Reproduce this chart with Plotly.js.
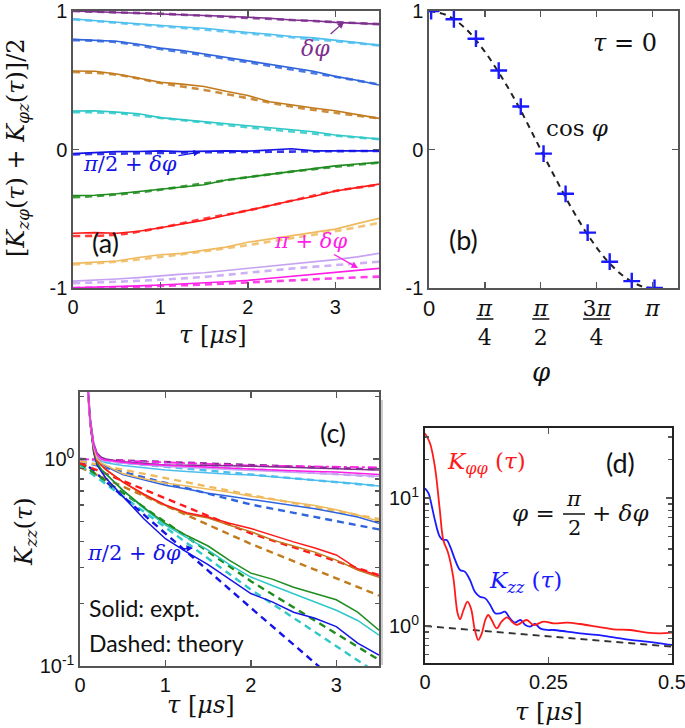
<!DOCTYPE html>
<html><head><meta charset="utf-8">
<script src="https://cdn.plot.ly/plotly-3.0.1.min.js"></script>
<style>body{margin:0;background:#fff}#c{width:685px;height:728px}</style>
</head><body><div id="c"></div>
<script>
// ---------- data ----------
const seriesNames = ['purple','skyblue','blue','brown','turquoise','blue2','green','red','lightorange','lavender','magenta'];
const seriesColors = ['#7E2F8E','#4DBEEE','#2F64DC','#C27A1C','#2EC8C8','#1414E6','#1E8C1E','#FF1A1A','#EFBA5E','#C6A2F2','#FF1EE6'];

// panel (a)
const aTau = [0,0.25,0.5,0.75,1,1.25,1.5,1.75,2,2.25,2.5,2.75,3,3.25,3.5];
const aExp = [
 [1.0,0.995,0.99,0.985,0.982,0.975,0.972,0.962,0.955,0.948,0.935,0.93,0.918,0.912,0.905],
 [0.942,0.93,0.918,0.905,0.894,0.885,0.875,0.858,0.845,0.832,0.816,0.806,0.79,0.772,0.752],
 [0.795,0.79,0.782,0.76,0.732,0.715,0.69,0.668,0.64,0.615,0.592,0.565,0.528,0.5,0.466],
 [0.567,0.565,0.545,0.515,0.485,0.472,0.455,0.42,0.39,0.345,0.32,0.3,0.28,0.25,0.225],
 [0.278,0.28,0.27,0.258,0.23,0.215,0.2,0.19,0.175,0.16,0.145,0.128,0.105,0.09,0.076],
 [-0.03,-0.02,-0.015,-0.014,-0.01,-0.015,-0.012,-0.01,-0.012,-0.005,0.005,-0.01,-0.01,-0.013,-0.01],
 [-0.333,-0.33,-0.32,-0.305,-0.29,-0.27,-0.255,-0.22,-0.2,-0.18,-0.16,-0.142,-0.118,-0.105,-0.093],
 [-0.605,-0.6,-0.605,-0.59,-0.565,-0.54,-0.51,-0.475,-0.44,-0.4,-0.37,-0.34,-0.3,-0.275,-0.25],
 [-0.822,-0.815,-0.805,-0.78,-0.76,-0.75,-0.73,-0.705,-0.67,-0.645,-0.62,-0.6,-0.575,-0.535,-0.497],
 [-0.95,-0.945,-0.935,-0.925,-0.91,-0.9,-0.89,-0.875,-0.86,-0.84,-0.825,-0.81,-0.795,-0.775,-0.75],
 [-0.998,-0.995,-0.99,-0.985,-0.978,-0.972,-0.962,-0.955,-0.945,-0.93,-0.918,-0.905,-0.89,-0.87,-0.858]
];
const aThTau = [0,0.5,1,1.5,2,2.5,3,3.5];
const aTh = [
 [1.0,0.99,0.98,0.966,0.95,0.935,0.92,0.905],
 [0.94,0.915,0.89,0.865,0.838,0.81,0.782,0.752],
 [0.79,0.775,0.725,0.68,0.63,0.578,0.525,0.47],
 [0.56,0.54,0.48,0.43,0.37,0.31,0.265,0.225],
 [0.27,0.262,0.228,0.195,0.16,0.13,0.1,0.075],
 [-0.035,-0.03,-0.025,-0.02,-0.018,-0.015,-0.012,-0.01],
 [-0.345,-0.325,-0.29,-0.245,-0.2,-0.16,-0.125,-0.095],
 [-0.625,-0.615,-0.565,-0.5,-0.44,-0.37,-0.3,-0.255],
 [-0.83,-0.81,-0.775,-0.735,-0.69,-0.64,-0.59,-0.53],
 [-0.965,-0.955,-0.94,-0.92,-0.89,-0.86,-0.835,-0.81],
 [-1.0,-0.995,-0.985,-0.975,-0.96,-0.945,-0.93,-0.918]
];

// panel (b)
const bPhi = [0.03,0.35,0.66,0.98,1.29,1.61,1.92,2.23,2.54,2.85,3.17];
const bVal = [1.0,0.94,0.80,0.57,0.31,-0.03,-0.32,-0.60,-0.81,-0.95,-1.0];
const bCurvePhi = [0,0.25,0.5,0.75,1.0,1.25,1.5,1.75,2.0,2.25,2.5,2.75,3.0,3.14];
const bCurveVal = [1,0.97,0.88,0.73,0.54,0.32,0.07,-0.18,-0.42,-0.63,-0.80,-0.92,-0.99,-1.0];
const bTickVals = [0,0.785,1.571,2.356,3.142];
const bTickText = ['<span style="font-family:Liberation Sans">0</span>','<i>π</i><br>4','<i>π</i><br>2','3<i>π</i><br>4','<i>π</i>'];

// panel (c)
const cTau = [0.08,0.12,0.16,0.2,0.25,0.3,0.5,0.75,1,1.25,1.5,1.75,2,2.25,2.5,2.75,3,3.25,3.5];
const cExp = [
 [2.8,1.58,1.2,1.07,1.02,1.0,0.97,0.955,0.935,0.933,0.927,0.927,0.923,0.916,0.912,0.908,0.902,0.891,0.885],
 [2.6,1.55,1.18,1.03,0.98,0.96,0.93,0.905,0.885,0.87,0.855,0.845,0.838,0.822,0.81,0.795,0.776,0.76,0.74],
 [2.63,1.55,1.15,1.0,0.955,0.923,0.841,0.794,0.748,0.716,0.684,0.661,0.638,0.617,0.596,0.575,0.55,0.525,0.49],
 [2.4,1.45,1.12,0.977,0.933,0.891,0.776,0.668,0.596,0.543,0.519,0.479,0.446,0.407,0.38,0.355,0.325,0.291,0.268],
 [2.51,1.48,1.1,0.955,0.891,0.851,0.708,0.575,0.479,0.417,0.363,0.309,0.269,0.245,0.224,0.204,0.186,0.166,0.141],
 [2.51,1.48,1.07,0.933,0.871,0.813,0.661,0.513,0.412,0.355,0.309,0.263,0.224,0.204,0.182,0.17,0.155,0.129,0.113],
 [2.51,1.48,1.1,0.955,0.891,0.851,0.708,0.582,0.489,0.427,0.38,0.324,0.281,0.263,0.24,0.224,0.209,0.182,0.149],
 [2.51,1.48,1.12,0.977,0.933,0.891,0.776,0.676,0.6,0.55,0.525,0.49,0.462,0.427,0.398,0.372,0.344,0.295,0.273],
 [2.5,1.51,1.15,1.0,0.955,0.933,0.851,0.804,0.767,0.741,0.716,0.692,0.661,0.638,0.617,0.596,0.569,0.537,0.501],
 [2.4,1.48,1.15,1.04,0.99,0.98,0.955,0.935,0.92,0.91,0.9,0.89,0.88,0.87,0.862,0.853,0.845,0.835,0.825],
 [2.5,1.51,1.17,1.05,1.0,0.99,0.966,0.944,0.933,0.923,0.912,0.902,0.891,0.885,0.877,0.871,0.867,0.855,0.843]
];
const cThTau = [0,2,3.5];
const cTh = [
 [1.0,0.94,0.891],
 [1.0,0.841,0.741],
 [0.977,0.603,0.457],
 [0.912,0.389,0.219],
 [0.933,0.234,0.091],
 [1.0,0.191,0.056],
 [0.955,0.257,0.107],
 [0.955,0.437,0.275],
 [0.977,0.67,0.513],
 [1.0,0.891,0.822],
 [1.0,0.93,0.912]
];

// panel (d)
const dTauPP = [0,0.01,0.02,0.03,0.037,0.047,0.057,0.066,0.071,0.078,0.086,0.093,0.101,0.108,0.115,0.122,0.128,0.135,0.145,0.155,0.166,0.176,0.186,0.193,0.206,0.22,0.24,0.26,0.287,0.314,0.348,0.382,0.416,0.449,0.476,0.5];
const dKpp = [32,26.9,17.6,8.05,4.7,3.7,2.43,1.256,1.127,1.334,1.549,1.374,0.931,0.778,0.877,1.114,1.219,1.114,0.959,1.081,1.169,1.081,1.019,1.049,1.114,1.019,1.081,1.049,1.062,1.037,0.989,0.942,0.931,0.887,0.877,0.887];
const dTauZZ = [0,0.007,0.014,0.02,0.03,0.037,0.044,0.051,0.061,0.071,0.081,0.091,0.101,0.111,0.122,0.132,0.142,0.152,0.162,0.172,0.182,0.193,0.203,0.213,0.223,0.233,0.247,0.26,0.287,0.314,0.348,0.382,0.416,0.449,0.476,0.5];
const dKzz = [11.9,10.9,8.55,6.73,4.99,4.7,4.7,4.17,3.28,2.74,2.65,2.29,1.853,1.694,1.644,1.459,1.256,1.256,1.294,1.148,1.062,1.114,1.019,0.989,1.037,0.959,0.931,0.931,0.904,0.877,0.851,0.815,0.778,0.755,0.733,0.711];
const dThTau = [0,0.5];
const dTh = [1.0,0.69];

// ---------- helpers ----------
const W = 685, H = 728;
const px = v => v / W, py = v => 1 - v / H;
const MATH = 'DejaVu Serif';
const SANS = 'Liberation Sans, Arial, sans-serif';
const CAL = 'Lato, Open Sans, sans-serif';

const traces = [];
// (a)
seriesNames.forEach((n, i) => {
  traces.push({x: aTau, y: aExp[i], xaxis: 'x', yaxis: 'y', mode: 'lines', name: n + ' expt',
    line: {color: seriesColors[i], width: 1.6}, showlegend: false, hoverinfo: 'skip'});
  traces.push({x: aThTau, y: aTh[i], xaxis: 'x', yaxis: 'y', mode: 'lines', name: n + ' theory',
    line: {color: seriesColors[i], width: 2.6, dash: '7px,5px', shape: 'spline'}, opacity: 0.85, showlegend: false, hoverinfo: 'skip'});
});
// (b)
traces.push({x: bCurvePhi, y: bCurveVal, xaxis: 'x2', yaxis: 'y2', mode: 'lines', name: 'cos',
  line: {color: '#222', width: 2, dash: '6px,5px', shape: 'spline'}, showlegend: false});
traces.push({x: bPhi, y: bVal, xaxis: 'x2', yaxis: 'y2', mode: 'markers', name: 'tau=0',
  marker: {symbol: 'cross-thin', size: 12, color: '#1a1aff', line: {width: 2.4, color: '#1a1aff'}}, showlegend: false});
// (c)
seriesNames.forEach((n, i) => {
  const isMag = (i === 10);
  traces.push({x: cThTau, y: cTh[i], xaxis: 'x3', yaxis: 'y3', mode: 'lines', name: n + ' theory c',
    line: {color: seriesColors[i], width: isMag ? 1.8 : 2.4, dash: isMag ? 'dashdot' : '7px,5px'}, showlegend: false});
});
seriesNames.forEach((n, i) => {
  traces.push({x: cTau, y: cExp[i], xaxis: 'x3', yaxis: 'y3', mode: 'lines', name: n + ' expt c',
    line: {color: seriesColors[i], width: 1.5}, showlegend: false});
});
// (d)
traces.push({x: dThTau, y: dTh, xaxis: 'x4', yaxis: 'y4', mode: 'lines', name: 'theory d',
  line: {color: '#333', width: 1.8, dash: '7px,5px'}, showlegend: false});
traces.push({x: dTauZZ, y: dKzz, xaxis: 'x4', yaxis: 'y4', mode: 'lines', name: 'Kzz',
  line: {color: '#1a1aff', width: 1.8, shape: 'spline'}, showlegend: false});
traces.push({x: dTauPP, y: dKpp, xaxis: 'x4', yaxis: 'y4', mode: 'lines', name: 'Kpp',
  line: {color: '#ff1a1a', width: 1.8, shape: 'spline'}, showlegend: false});

const axBase = {showgrid: false, zeroline: false, showline: true, linecolor: '#555', linewidth: 1.6,
  mirror: 'allticks', ticks: 'inside', ticklen: 6, tickcolor: '#555', tickwidth: 1.3,
  ticklabeloverflow: 'allow',
  tickfont: {family: SANS, size: 20, color: '#111'}};

const layout = {
  width: W, height: H, margin: {l: 0, r: 0, t: 0, b: 0},
  paper_bgcolor: '#fff', plot_bgcolor: '#fff', showlegend: false,
  xaxis: Object.assign({}, axBase, {domain: [px(73), px(379)], range: [0, 3.5], anchor: 'y', tickvals: [0,1,2,3]}),
  yaxis: Object.assign({}, axBase, {domain: [py(288), py(11)], range: [-1, 1], anchor: 'x', tickvals: [-1,0,1], ticktext: ['-1','0','1']}),
  xaxis2: Object.assign({}, axBase, {domain: [px(429), px(678)], range: [0, 3.5], anchor: 'y2', tickvals: bTickVals, ticktext: bTickText,
    ticklabelstandoff: 0, tickfont: {family: MATH, size: 22, color: '#111'}}),
  yaxis2: Object.assign({}, axBase, {domain: [py(288), py(11)], range: [-1, 1], anchor: 'x2', tickvals: [-1,0,1], ticktext: ['-1','0','1']}),
  xaxis3: Object.assign({}, axBase, {domain: [px(80), px(379)], range: [0, 3.5], anchor: 'y3', tickvals: [0,1,2,3]}),
  yaxis3: Object.assign({}, axBase, {domain: [py(666), py(392)], type: 'log', range: [-1, 0.324], anchor: 'x3',
    tickvals: [0.1, 1], ticktext: ['10<sup>-1</sup>', '10<sup>0</sup>'],
    minor: {ticks: 'inside', ticklen: 4, tickcolor: '#555', tickvals: [0.2,0.3,0.4,0.5,0.6,0.7,0.8,0.9,2]}}),
  xaxis4: Object.assign({}, axBase, {domain: [px(425), px(672)], range: [0, 0.5], anchor: 'y4', tickvals: [0,0.25,0.5], ticktext: ['0','0.25','0.5'], linecolor: '#222'}),
  yaxis4: Object.assign({}, axBase, {domain: [py(663), py(428)], type: 'log', range: [-0.289, 1.547], anchor: 'x4', linecolor: '#222', linewidth: 2,
    tickvals: [1, 10], ticktext: ['10<sup>0</sup>', '10<sup>1</sup>'],
    minor: {ticks: 'inside', ticklen: 4, tickcolor: '#555', tickvals: [0.6,0.7,0.8,0.9,2,3,4,5,6,7,8,9,20,30]}}),
  annotations: [],
  shapes: []
};

function txt(t, x, y, o) {
  layout.annotations.push(Object.assign({text: t, x: px(x), y: py(y), xref: 'paper', yref: 'paper', showarrow: false,
    xanchor: 'center', yanchor: 'middle', font: {family: MATH, size: 22, color: '#111'}}, o || {}));
}
function arrowTxt(t, tipX, tipY, tx, ty, color, size) {
  layout.annotations.push({text: t, x: px(tipX), y: py(tipY), xref: 'paper', yref: 'paper', showarrow: true,
    ax: tx - tipX, ay: ty - tipY, arrowcolor: color, arrowwidth: 1.3, arrowhead: 2, arrowsize: 1, standoff: 0,
    font: {family: MATH, size: size, color: color}});
}

// axis titles
txt('<i>τ</i> [<i>μs</i>]', 213, 335, {font: {family: MATH, size: 24, color: '#111'}});
txt('<i>φ</i>', 541, 372, {font: {family: MATH, size: 26, color: '#111'}});
txt('<i>τ</i> [<i>μs</i>]', 201, 705, {font: {family: MATH, size: 24, color: '#111'}});
txt('<i>τ</i> [<i>μs</i>]', 549, 712, {font: {family: MATH, size: 24, color: '#111'}});
txt('[<i>K</i><sub><i>zφ</i></sub>(<i>τ</i>) + <i>K</i><sub><i>φz</i></sub>(<i>τ</i>)]/2', 18, 148, {textangle: -90, font: {family: MATH, size: 24, color: '#111'}});
txt('<i>K</i><sub><i>zz</i></sub>(<i>τ</i>)', 25, 531, {textangle: -90, font: {family: MATH, size: 24, color: '#111'}});

// panel labels
txt('(a)', 105, 243, {font: {family: CAL, size: 27, color: '#111'}});
txt('(b)', 463, 240, {font: {family: CAL, size: 27, color: '#111'}});
txt('(c)', 333, 432, {font: {family: CAL, size: 27, color: '#111'}});
txt('(d)', 620, 462, {font: {family: CAL, size: 27, color: '#111'}});

// texts
txt('<i>τ</i> = 0', 625, 43, {font: {family: MATH, size: 24, color: '#111'}});
txt('cos <i>φ</i>', 577, 128, {font: {family: MATH, size: 23, color: '#111'}});
txt('Solid: expt.', 87, 608, {xanchor: 'left', font: {family: CAL, size: 23, color: '#111'}});
txt('Dashed: theory', 87, 643, {xanchor: 'left', font: {family: CAL, size: 23, color: '#111'}});
txt('<i>K</i><sub><i>φφ</i></sub> (<i>τ</i>)', 445, 463, {xanchor: 'left', font: {family: MATH, size: 23, color: '#ff1a1a'}});
txt('<i>K</i><sub><i>zz</i></sub> (<i>τ</i>)', 487, 582, {xanchor: 'left', font: {family: MATH, size: 23, color: '#1a1aff'}});
txt('<i>φ</i> =', 533, 513, {font: {family: MATH, size: 23, color: '#111'}});
txt('<i>π</i>', 574, 499, {font: {family: MATH, size: 21, color: '#111'}});
txt('2', 574, 528, {font: {family: MATH, size: 21, color: '#111'}});
txt('+ <i>δφ</i>', 620, 513, {font: {family: MATH, size: 23, color: '#111'}});
layout.shapes.push({type: 'line', xref: 'paper', yref: 'paper', x0: px(563), x1: px(585), y0: py(514), y1: py(514), line: {color: '#111', width: 1.5}});

// arrows
arrowTxt('<i>δφ</i>', 344, 22, 315, 48, '#7E2F8E', 22);
arrowTxt('<i>π</i>/2 + <i>δφ</i>', 200, 152, 130, 164, '#1414E6', 21);
arrowTxt('<i>π</i> + <i>δφ</i>', 358, 268, 310, 241, '#FF1EE6', 21);
arrowTxt('<i>π</i>/2 + <i>δφ</i>', 193, 548, 134, 553, '#1414E6', 21);

// fraction bars for panel (b) ticks
const fracHalf = [0, 0.12, 0.12, 0.19, 0];
bTickVals.forEach((v, i) => {
  if (fracHalf[i] > 0) layout.shapes.push({type: 'line', xref: 'x2', yref: 'paper', x0: v - fracHalf[i], x1: v + fracHalf[i],
    y0: py(319), y1: py(319), line: {color: '#111', width: 1.5}});
});
// thin gray frame line left of panel (d)
layout.shapes.push({type: 'line', xref: 'paper', yref: 'paper', x0: px(382), x1: px(382), y0: py(400), y1: py(665), line: {color: '#bbb', width: 1.5}});

Plotly.newPlot('c', traces, layout, {staticPlot: true, displayModeBar: false});
</script></body></html>
